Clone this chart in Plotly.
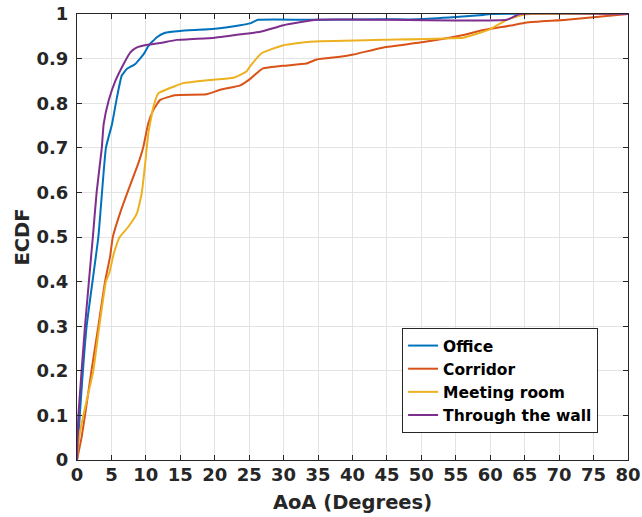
import plotly.graph_objects as go

# Office
office_x = [0, 0.4, 1.4, 3.1, 4.2, 5.08, 5.8, 6.5, 7.26, 8.47, 9.68, 10.4, 11.6, 12.8, 15, 20, 23.7, 25.1, 26.3, 35, 45, 49.3, 55, 59, 60, 80]
office_y = [0, 0.10, 0.30, 0.50, 0.70, 0.753, 0.813, 0.862, 0.877, 0.888, 0.91, 0.929, 0.948, 0.958, 0.962, 0.967, 0.975, 0.979, 0.987, 0.987, 0.988, 0.988, 0.993, 0.998, 1.0, 1.0]

# Corridor
corridor_x = [0, 0.68, 1.16, 2.1, 3.1, 4.07, 4.8, 5.2, 6.24, 7.45, 8.9, 9.6, 10.35, 11.1, 12.05, 14.2, 18.8, 20.8, 23.7, 25.1, 26.6, 27, 30, 33.3, 34.8, 38.2, 40.1, 44.5, 50.3, 56.1, 59, 62.9, 65.3, 71.1, 80]
corridor_y = [0, 0.052, 0.10, 0.20, 0.30, 0.40, 0.456, 0.50, 0.553, 0.605, 0.665, 0.70, 0.755, 0.785, 0.807, 0.818, 0.82, 0.83, 0.84, 0.854, 0.874, 0.878, 0.884, 0.889, 0.898, 0.904, 0.909, 0.925, 0.937, 0.953, 0.964, 0.974, 0.981, 0.987, 1.0]

# Meeting room
meeting_x = [0, 0.3, 0.92, 1.65, 2.37, 3.24, 4.2, 4.7, 5.3, 5.8, 6.2, 7.45, 8.7, 9.4, 9.9, 10.35, 11.1, 11.8, 14, 15.4, 19.3, 22.7, 24.6, 25.1, 26.8, 30, 33.8, 44.5, 56.1, 57.5, 60, 62.4, 64.8, 66, 80]
meeting_y = [0, 0.05, 0.10, 0.15, 0.20, 0.30, 0.40, 0.42, 0.46, 0.485, 0.50, 0.523, 0.553, 0.598, 0.665, 0.732, 0.792, 0.822, 0.837, 0.845, 0.852, 0.857, 0.871, 0.882, 0.912, 0.930, 0.938, 0.942, 0.947, 0.953, 0.966, 0.987, 0.998, 1.0, 1.0]

# Through the wall
wall_x = [0, 0.2, 1.16, 2.3, 2.85, 3.6, 3.87, 4.6, 5.57, 6.77, 7.75, 8.7, 10.2, 12.05, 14.5, 20, 25.1, 26.6, 30, 34.8, 45, 62.4, 64.3, 80]
wall_y = [0, 0.10, 0.30, 0.50, 0.60, 0.70, 0.753, 0.806, 0.85, 0.888, 0.914, 0.925, 0.931, 0.935, 0.942, 0.947, 0.957, 0.96, 0.975, 0.987, 0.987, 0.987, 1.0, 1.0]

series_names = ["Office", "Corridor", "Meeting room", "Through the wall"]
series_colors = ["#0072BD", "#D95319", "#EDB120", "#7E2F8E"]

x_ticks = list(range(0, 81, 5))
y_ticks = [round(i * 0.1, 1) for i in range(11)]
y_tick_labels = ["0", "0.1", "0.2", "0.3", "0.4", "0.5", "0.6", "0.7", "0.8", "0.9", "1"]

fig = go.Figure()
for name, xs, ys, col in zip(series_names,
                             [office_x, corridor_x, meeting_x, wall_x],
                             [office_y, corridor_y, meeting_y, wall_y],
                             series_colors):
    fig.add_trace(go.Scatter(x=xs, y=ys, mode="lines", name=name,
                             line=dict(color=col, width=2, shape="spline", smoothing=0.4)))

axis_font = dict(family="DejaVu Sans", size=18, color="#262626", weight="bold")
title_font = dict(family="DejaVu Sans", size=19.5, color="#262626", weight="bold")
fig.update_layout(
    width=642, height=517,
    margin=dict(l=77, r=14, t=14, b=57),
    paper_bgcolor="white", plot_bgcolor="white",
    font=dict(family="DejaVu Sans", color="#262626", weight="bold"),
    legend=dict(x=0.59, y=0.296, xanchor="left", yanchor="top",
                bgcolor="white", bordercolor="#262626", borderwidth=1,
                font=dict(family="DejaVu Sans", size=15.5, color="black", weight="bold"),
                tracegroupgap=0, itemwidth=30),
    showlegend=True,
)
fig.update_xaxes(range=[0, 80], tickvals=x_ticks, tickfont=axis_font, automargin=False,
                 title=dict(text="AoA (Degrees)", font=title_font, standoff=11),
                 showgrid=True, gridcolor="#e3e3e3", gridwidth=1,
                 showline=True, linecolor="#262626", linewidth=1, mirror="ticks",
                 ticks="inside", ticklen=5, tickcolor="#262626", zeroline=False,
                 ticklabelstandoff=-2)
fig.update_yaxes(range=[0, 1], tickvals=y_ticks, ticktext=y_tick_labels, tickfont=axis_font, automargin=False,
                 title=dict(text="ECDF", font=title_font, standoff=1),
                 showgrid=True, gridcolor="#e3e3e3", gridwidth=1,
                 showline=True, linecolor="#262626", linewidth=1, mirror="ticks",
                 ticks="inside", ticklen=5, tickcolor="#262626", zeroline=False,
                 ticklabelstandoff=4)

# remove the default 8px page margin so the 642x517 figure fills the window exactly
fig.write_html("out.html", config={"displayModeBar": False},
               post_script="document.body.style.margin='0';")
